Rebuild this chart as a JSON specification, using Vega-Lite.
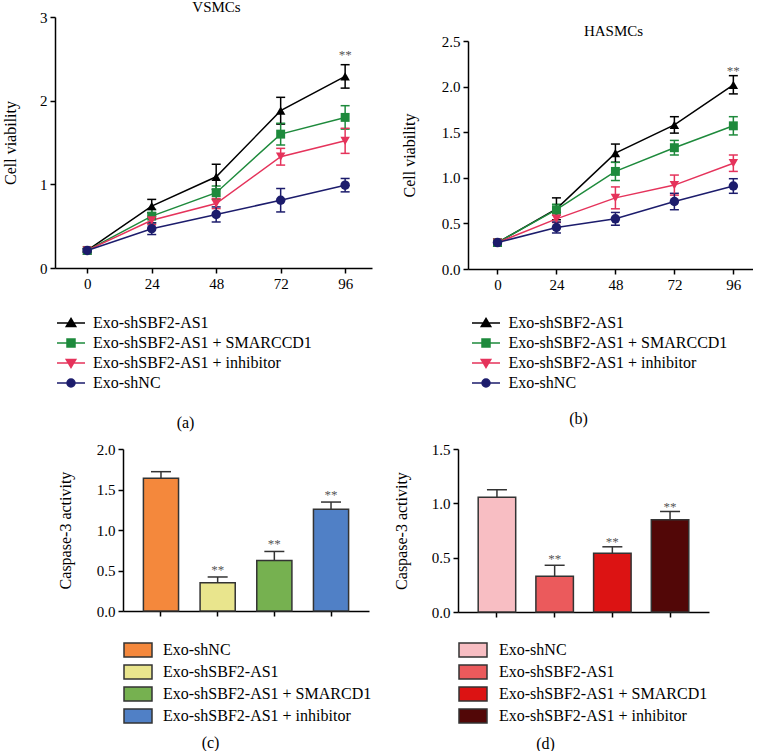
{
  "$schema": "https://vega.github.io/schema/vega-lite/v6.json",
  "background": "white",
  "padding": {"left": 2, "top": 0, "right": 0, "bottom": 0},
  "autosize": {"type": "pad"},
  "config": {
    "font": "Liberation Serif",
    "view": {"stroke": null},
    "axis": {"grid": false, "domainColor": "#000", "domainWidth": 1.5, "tickColor": "#000", "tickWidth": 1.5, "tickSize": 5, "labelFont": "Liberation Serif", "labelFontSize": 15, "labelColor": "#000", "labelPadding": 3, "titleFont": "Liberation Serif", "titleFontSize": 16, "titleFontWeight": "normal", "titleColor": "#000"},
    "legend": {"labelFont": "Liberation Serif", "labelFontSize": 16, "labelColor": "#000", "padding": 0, "titlePadding": 0, "labelLimit": 400},
    "title": {"font": "Liberation Serif", "fontSize": 15, "fontWeight": "normal", "color": "#000", "frame": "group", "anchor": "middle"},
    "text": {"font": "Liberation Serif"}
  },
  "resolve": {"scale": {"color": "independent", "shape": "independent"}, "legend": {"color": "independent", "shape": "independent"}},
  "spacing": 12,
  "vconcat": [
    {
      "spacing": 29,
      "resolve": {"scale": {"color": "independent", "shape": "independent"}, "legend": {"color": "independent", "shape": "independent"}},
      "hconcat": [
        {
          "width": 317, "height": 251,
          "title": {"text": "VSMCs", "offset": -5, "dx": 3},
          "data": {"values": [
            {"group": "Exo-shSBF2-AS1", "t": 0, "v": 0.21, "e": 0.02},
            {"group": "Exo-shSBF2-AS1", "t": 24, "v": 0.74, "e": 0.08},
            {"group": "Exo-shSBF2-AS1", "t": 48, "v": 1.09, "e": 0.15},
            {"group": "Exo-shSBF2-AS1", "t": 72, "v": 1.88, "e": 0.16},
            {"group": "Exo-shSBF2-AS1", "t": 96, "v": 2.29, "e": 0.14},
            {"group": "Exo-shSBF2-AS1 + SMARCCD1", "t": 0, "v": 0.21, "e": 0.02},
            {"group": "Exo-shSBF2-AS1 + SMARCCD1", "t": 24, "v": 0.62, "e": 0.08},
            {"group": "Exo-shSBF2-AS1 + SMARCCD1", "t": 48, "v": 0.9, "e": 0.08},
            {"group": "Exo-shSBF2-AS1 + SMARCCD1", "t": 72, "v": 1.6, "e": 0.13},
            {"group": "Exo-shSBF2-AS1 + SMARCCD1", "t": 96, "v": 1.8, "e": 0.14},
            {"group": "Exo-shSBF2-AS1 + inhibitor", "t": 0, "v": 0.21, "e": 0.02},
            {"group": "Exo-shSBF2-AS1 + inhibitor", "t": 24, "v": 0.57, "e": 0.05},
            {"group": "Exo-shSBF2-AS1 + inhibitor", "t": 48, "v": 0.77, "e": 0.06},
            {"group": "Exo-shSBF2-AS1 + inhibitor", "t": 72, "v": 1.33, "e": 0.1},
            {"group": "Exo-shSBF2-AS1 + inhibitor", "t": 96, "v": 1.52, "e": 0.15},
            {"group": "Exo-shNC", "t": 0, "v": 0.21, "e": 0.02},
            {"group": "Exo-shNC", "t": 24, "v": 0.47, "e": 0.07},
            {"group": "Exo-shNC", "t": 48, "v": 0.64, "e": 0.09},
            {"group": "Exo-shNC", "t": 72, "v": 0.81, "e": 0.14},
            {"group": "Exo-shNC", "t": 96, "v": 0.99, "e": 0.08}
          ]},
          "encoding": {
            "x": {"field": "t", "type": "quantitative", "scale": {"domain": [-12, 106], "nice": false, "zero": false},
                  "axis": {"values": [0, 24, 48, 72, 96], "title": "(a)", "titleX": 130, "titleY": 154, "titleBaseline": "middle", "titleAlign": "center", "labelFontSize": 15, "titleFontSize": 16, "domainWidth": 1.5, "tickWidth": 1.5, "tickSize": 5, "domainColor": "#000", "tickColor": "#000", "labelColor": "#000", "titleColor": "#000", "titleFontWeight": "normal"}},
            "y": {"field": "v", "type": "quantitative", "scale": {"domain": [0, 3], "nice": false},
                  "axis": {"values": [0, 1, 2, 3], "format": "d", "title": "Cell viability", "titleX": -45, "titleBaseline": "middle", "labelFontSize": 15, "titleFontSize": 16, "domainWidth": 1.5, "tickWidth": 1.5, "tickSize": 5, "domainColor": "#000", "tickColor": "#000", "labelColor": "#000", "titleColor": "#000", "titleFontWeight": "normal"}},
            "color": {"field": "group", "type": "nominal",
                      "scale": {"domain": ["Exo-shSBF2-AS1", "Exo-shSBF2-AS1 + SMARCCD1", "Exo-shSBF2-AS1 + inhibitor", "Exo-shNC"], "range": ["#000000", "#1e8a3c", "#e5335b", "#1c1c6c"]},
                      "legend": {"orient": "none", "legendX": 8, "legendY": 298, "title": null, "labelFont": "Liberation Serif", "labelFontSize": 16, "symbolSize": 100, "symbolOpacity": 1, "symbolStrokeWidth": 1.5, "labelOffset": 14, "rowPadding": 4}}
          },
          "layer": [
            {"mark": {"type": "errorbar", "ticks": true, "size": 9, "thickness": 1.5, "opacity": 1}, "encoding": {"yError": {"field": "e"}}},
            {"mark": {"type": "line", "strokeWidth": 1.5}, "encoding": {}},
            {"mark": {"type": "point", "filled": true, "opacity": 0, "size": 90},
             "encoding": {"shape": {"field": "group", "type": "nominal",
               "scale": {"domain": ["Exo-shSBF2-AS1", "Exo-shSBF2-AS1 + SMARCCD1", "Exo-shSBF2-AS1 + inhibitor", "Exo-shNC"],
                         "range": ["M-2.8,0H2.8M0,-0.9L0.95,0.7L-0.95,0.7Z", "M-2.8,0H2.8M-0.8,-0.8H0.8V0.8H-0.8Z", "M-2.8,0H2.8M-0.95,-0.7L0.95,-0.7L0,0.9Z", "M-2.8,0H2.8M0.8,0A0.8,0.8,0,1,1,-0.8,0A0.8,0.8,0,1,1,0.8,0Z"]},
               "legend": {"orient": "none", "legendX": 8, "legendY": 298, "title": null, "labelFont": "Liberation Serif", "labelFontSize": 16, "symbolSize": 100, "symbolOpacity": 1, "symbolStrokeWidth": 1.5, "labelOffset": 14, "rowPadding": 4}}}},
            {"transform": [{"filter": {"field": "group", "equal": "Exo-shSBF2-AS1"}}], "mark": {"type": "point", "shape": "triangle-up", "filled": true, "opacity": 1, "size": 90}, "encoding": {}},
            {"transform": [{"filter": {"field": "group", "equal": "Exo-shSBF2-AS1 + SMARCCD1"}}], "mark": {"type": "point", "shape": "square", "filled": true, "opacity": 1, "size": 80}, "encoding": {}},
            {"transform": [{"filter": {"field": "group", "equal": "Exo-shSBF2-AS1 + inhibitor"}}], "mark": {"type": "point", "shape": "triangle-down", "filled": true, "opacity": 1, "size": 90}, "encoding": {}},
            {"transform": [{"filter": {"field": "group", "equal": "Exo-shNC"}}], "mark": {"type": "point", "shape": "circle", "filled": true, "opacity": 1, "size": 90}, "encoding": {}},
            {"data": {"values": [{"t": 96, "v": 2.59, "label": "**"}]},
             "mark": {"type": "text", "fontSize": 13, "baseline": "middle", "dy": 4},
             "encoding": {"text": {"field": "label"}, "color": {"value": "#555555"}}}
          ]
        },
        {
          "spacing": 0,
          "resolve": {"scale": {"color": "independent", "shape": "independent"}, "legend": {"color": "independent", "shape": "independent"}},
          "vconcat": [
            {"width": 1, "height": 7, "data": {"values": [{"k": 1}]}, "mark": {"type": "point", "opacity": 0, "size": 1}, "encoding": {}},
            {
              "width": 285, "height": 228,
              "title": {"text": "HASMCs", "offset": -5, "dx": 3},
              "data": {"values": [
                {"group": "Exo-shSBF2-AS1", "t": 0, "v": 0.29, "e": 0.02},
                {"group": "Exo-shSBF2-AS1", "t": 24, "v": 0.66, "e": 0.12},
                {"group": "Exo-shSBF2-AS1", "t": 48, "v": 1.27, "e": 0.1},
                {"group": "Exo-shSBF2-AS1", "t": 72, "v": 1.58, "e": 0.09},
                {"group": "Exo-shSBF2-AS1", "t": 96, "v": 2.02, "e": 0.1},
                {"group": "Exo-shSBF2-AS1 + SMARCCD1", "t": 0, "v": 0.29, "e": 0.02},
                {"group": "Exo-shSBF2-AS1 + SMARCCD1", "t": 24, "v": 0.65, "e": 0.06},
                {"group": "Exo-shSBF2-AS1 + SMARCCD1", "t": 48, "v": 1.07, "e": 0.1},
                {"group": "Exo-shSBF2-AS1 + SMARCCD1", "t": 72, "v": 1.33, "e": 0.08},
                {"group": "Exo-shSBF2-AS1 + SMARCCD1", "t": 96, "v": 1.57, "e": 0.1},
                {"group": "Exo-shSBF2-AS1 + inhibitor", "t": 0, "v": 0.29, "e": 0.02},
                {"group": "Exo-shSBF2-AS1 + inhibitor", "t": 24, "v": 0.55, "e": 0.04},
                {"group": "Exo-shSBF2-AS1 + inhibitor", "t": 48, "v": 0.78, "e": 0.12},
                {"group": "Exo-shSBF2-AS1 + inhibitor", "t": 72, "v": 0.92, "e": 0.11},
                {"group": "Exo-shSBF2-AS1 + inhibitor", "t": 96, "v": 1.16, "e": 0.09},
                {"group": "Exo-shNC", "t": 0, "v": 0.29, "e": 0.02},
                {"group": "Exo-shNC", "t": 24, "v": 0.455, "e": 0.06},
                {"group": "Exo-shNC", "t": 48, "v": 0.55, "e": 0.07},
                {"group": "Exo-shNC", "t": 72, "v": 0.74, "e": 0.09},
                {"group": "Exo-shNC", "t": 96, "v": 0.91, "e": 0.08}
              ]},
              "encoding": {
                "x": {"field": "t", "type": "quantitative", "scale": {"domain": [-12, 104], "nice": false, "zero": false},
                      "axis": {"values": [0, 24, 48, 72, 96], "title": "(b)", "titleX": 110, "titleY": 149, "titleBaseline": "middle", "titleAlign": "center", "labelFontSize": 15, "titleFontSize": 16, "domainWidth": 1.5, "tickWidth": 1.5, "tickSize": 5, "domainColor": "#000", "tickColor": "#000", "labelColor": "#000", "titleColor": "#000", "titleFontWeight": "normal"}},
                "y": {"field": "v", "type": "quantitative", "scale": {"domain": [0, 2.5], "nice": false},
                      "axis": {"values": [0, 0.5, 1, 1.5, 2, 2.5], "format": ".1f", "title": "Cell viability", "titleX": -59, "titleBaseline": "middle", "labelFontSize": 15, "titleFontSize": 16, "domainWidth": 1.5, "tickWidth": 1.5, "tickSize": 5, "domainColor": "#000", "tickColor": "#000", "labelColor": "#000", "titleColor": "#000", "titleFontWeight": "normal"}},
                "color": {"field": "group", "type": "nominal",
                          "scale": {"domain": ["Exo-shSBF2-AS1", "Exo-shSBF2-AS1 + SMARCCD1", "Exo-shSBF2-AS1 + inhibitor", "Exo-shNC"], "range": ["#000000", "#1e8a3c", "#e5335b", "#1c1c6c"]},
                          "legend": {"orient": "none", "legendX": 10, "legendY": 274, "title": null, "labelFont": "Liberation Serif", "labelFontSize": 16, "symbolSize": 100, "symbolOpacity": 1, "symbolStrokeWidth": 1.5, "labelOffset": 14.5, "rowPadding": 4}}
              },
              "layer": [
                {"mark": {"type": "errorbar", "ticks": true, "size": 9, "thickness": 1.5, "opacity": 1}, "encoding": {"yError": {"field": "e"}}},
                {"mark": {"type": "line", "strokeWidth": 1.5}, "encoding": {}},
                {"mark": {"type": "point", "filled": true, "opacity": 0, "size": 90},
                 "encoding": {"shape": {"field": "group", "type": "nominal",
                   "scale": {"domain": ["Exo-shSBF2-AS1", "Exo-shSBF2-AS1 + SMARCCD1", "Exo-shSBF2-AS1 + inhibitor", "Exo-shNC"],
                             "range": ["M-2.8,0H2.8M0,-0.9L0.95,0.7L-0.95,0.7Z", "M-2.8,0H2.8M-0.8,-0.8H0.8V0.8H-0.8Z", "M-2.8,0H2.8M-0.95,-0.7L0.95,-0.7L0,0.9Z", "M-2.8,0H2.8M0.8,0A0.8,0.8,0,1,1,-0.8,0A0.8,0.8,0,1,1,0.8,0Z"]},
                   "legend": {"orient": "none", "legendX": 10, "legendY": 274, "title": null, "labelFont": "Liberation Serif", "labelFontSize": 16, "symbolSize": 100, "symbolOpacity": 1, "symbolStrokeWidth": 1.5, "labelOffset": 14.5, "rowPadding": 4}}}},
                {"transform": [{"filter": {"field": "group", "equal": "Exo-shSBF2-AS1"}}], "mark": {"type": "point", "shape": "triangle-up", "filled": true, "opacity": 1, "size": 90}, "encoding": {}},
                {"transform": [{"filter": {"field": "group", "equal": "Exo-shSBF2-AS1 + SMARCCD1"}}], "mark": {"type": "point", "shape": "square", "filled": true, "opacity": 1, "size": 80}, "encoding": {}},
                {"transform": [{"filter": {"field": "group", "equal": "Exo-shSBF2-AS1 + inhibitor"}}], "mark": {"type": "point", "shape": "triangle-down", "filled": true, "opacity": 1, "size": 90}, "encoding": {}},
                {"transform": [{"filter": {"field": "group", "equal": "Exo-shNC"}}], "mark": {"type": "point", "shape": "circle", "filled": true, "opacity": 1, "size": 90}, "encoding": {}},
                {"data": {"values": [{"t": 96, "v": 2.22, "label": "**"}]},
                 "mark": {"type": "text", "fontSize": 13, "baseline": "middle", "dy": 4},
                 "encoding": {"text": {"field": "label"}, "color": {"value": "#555555"}}}
              ]
            }
          ]
        }
      ]
    },
    {
      "spacing": 0,
      "resolve": {"scale": {"color": "independent", "shape": "independent"}, "legend": {"color": "independent", "shape": "independent"}},
      "hconcat": [
        {"width": 1, "height": 1, "data": {"values": [{"k": 1}]}, "mark": {"type": "point", "opacity": 0, "size": 1}, "encoding": {}},
        {
          "width": 246, "height": 162,
          "data": {"values": [
            {"group": "Exo-shNC", "v": 1.64, "e": 0.08},
            {"group": "Exo-shSBF2-AS1", "v": 0.35, "e": 0.07},
            {"group": "Exo-shSBF2-AS1 + SMARCD1", "v": 0.625, "e": 0.11},
            {"group": "Exo-shSBF2-AS1 + inhibitor", "v": 1.255, "e": 0.09}
          ]},
          "encoding": {
            "x": {"field": "group", "type": "nominal", "sort": null,
                  "scale": {"domain": ["Exo-shNC", "Exo-shSBF2-AS1", "Exo-shSBF2-AS1 + SMARCD1", "Exo-shSBF2-AS1 + inhibitor"], "paddingInner": 0.38, "paddingOuter": 0.36},
                  "axis": {"labels": false, "bandPosition": 0.5, "title": "(c)", "titleX": 87, "titleY": 131, "titleBaseline": "middle", "titleAlign": "center", "titleFontSize": 16, "domainWidth": 1.5, "tickWidth": 1.5, "tickSize": 5, "domainColor": "#000", "tickColor": "#000", "titleColor": "#000", "titleFontWeight": "normal"}},
            "y": {"field": "v", "type": "quantitative", "scale": {"domain": [0, 2], "nice": false},
                  "axis": {"values": [0, 0.5, 1, 1.5, 2], "format": ".1f", "title": "Caspase-3 activity", "titleX": -58, "titleBaseline": "middle", "labelFontSize": 15, "titleFontSize": 16, "domainWidth": 1.5, "tickWidth": 1.5, "tickSize": 5, "domainColor": "#000", "tickColor": "#000", "labelColor": "#000", "titleColor": "#000", "titleFontWeight": "normal"}}
          },
          "layer": [
            {"mark": {"type": "errorbar", "ticks": true, "size": 20, "thickness": 1.5, "color": "#333333", "opacity": 1}, "encoding": {"yError": {"field": "e"}}},
            {"mark": {"type": "bar", "stroke": "#333333", "strokeWidth": 1.5, "opacity": 1},
             "encoding": {"color": {"field": "group", "type": "nominal",
               "scale": {"domain": ["Exo-shNC", "Exo-shSBF2-AS1", "Exo-shSBF2-AS1 + SMARCD1", "Exo-shSBF2-AS1 + inhibitor"], "range": ["#f4883c", "#e9e58d", "#76b150", "#5080c6"]},
               "legend": {"orient": "none", "legendX": 4, "legendY": 190, "title": null, "labelFont": "Liberation Serif", "labelFontSize": 16, "symbolType": "M-1.4,-0.7H1.4V0.7H-1.4Z", "symbolSize": 400, "symbolStrokeColor": "#333333", "symbolStrokeWidth": 1.5, "symbolOpacity": 1, "labelOffset": 14, "rowPadding": 1}}}},
            {"data": {"values": [
              {"group": "Exo-shSBF2-AS1", "v": 0.56, "label": "**"},
              {"group": "Exo-shSBF2-AS1 + SMARCD1", "v": 0.875, "label": "**"},
              {"group": "Exo-shSBF2-AS1 + inhibitor", "v": 1.48, "label": "**"}
            ]},
             "mark": {"type": "text", "fontSize": 13, "baseline": "middle", "dy": 4},
             "encoding": {"text": {"field": "label"}, "color": {"value": "#555555"}}}
          ]
        },
        {"width": 21, "height": 1, "data": {"values": [{"k": 1}]}, "mark": {"type": "point", "opacity": 0, "size": 1}, "encoding": {}},
        {
          "width": 251, "height": 163,
          "data": {"values": [
            {"group": "Exo-shNC", "v": 1.055, "e": 0.07},
            {"group": "Exo-shSBF2-AS1", "v": 0.33, "e": 0.1},
            {"group": "Exo-shSBF2-AS1 + SMARCD1", "v": 0.54, "e": 0.06},
            {"group": "Exo-shSBF2-AS1 + inhibitor", "v": 0.85, "e": 0.075}
          ]},
          "encoding": {
            "x": {"field": "group", "type": "nominal", "sort": null,
                  "scale": {"domain": ["Exo-shNC", "Exo-shSBF2-AS1", "Exo-shSBF2-AS1 + SMARCD1", "Exo-shSBF2-AS1 + inhibitor"], "paddingInner": 0.35, "paddingOuter": 0.35},
                  "axis": {"labels": false, "bandPosition": 0.5, "title": "(d)", "titleX": 87, "titleY": 131, "titleBaseline": "middle", "titleAlign": "center", "titleFontSize": 16, "domainWidth": 1.5, "tickWidth": 1.5, "tickSize": 5, "domainColor": "#000", "tickColor": "#000", "titleColor": "#000", "titleFontWeight": "normal"}},
            "y": {"field": "v", "type": "quantitative", "scale": {"domain": [0, 1.5], "nice": false},
                  "axis": {"values": [0, 0.5, 1, 1.5], "format": ".1f", "title": "Caspase-3 activity", "titleX": -57, "titleBaseline": "middle", "labelFontSize": 15, "titleFontSize": 16, "domainWidth": 1.5, "tickWidth": 1.5, "tickSize": 5, "domainColor": "#000", "tickColor": "#000", "labelColor": "#000", "titleColor": "#000", "titleFontWeight": "normal"}}
          },
          "layer": [
            {"mark": {"type": "errorbar", "ticks": true, "size": 20, "thickness": 1.5, "color": "#333333", "opacity": 1}, "encoding": {"yError": {"field": "e"}}},
            {"mark": {"type": "bar", "stroke": "#333333", "strokeWidth": 1.5, "opacity": 1},
             "encoding": {"color": {"field": "group", "type": "nominal",
               "scale": {"domain": ["Exo-shNC", "Exo-shSBF2-AS1", "Exo-shSBF2-AS1 + SMARCD1", "Exo-shSBF2-AS1 + inhibitor"], "range": ["#f8bec3", "#eb5a5c", "#dc1313", "#520707"]},
               "legend": {"orient": "none", "legendX": 4, "legendY": 190, "title": null, "labelFont": "Liberation Serif", "labelFontSize": 16, "symbolType": "M-1.4,-0.7H1.4V0.7H-1.4Z", "symbolSize": 400, "symbolStrokeColor": "#333333", "symbolStrokeWidth": 1.5, "symbolOpacity": 1, "labelOffset": 15, "rowPadding": 1}}}},
            {"data": {"values": [
              {"group": "Exo-shSBF2-AS1", "v": 0.52, "label": "**"},
              {"group": "Exo-shSBF2-AS1 + SMARCD1", "v": 0.68, "label": "**"},
              {"group": "Exo-shSBF2-AS1 + inhibitor", "v": 1.0, "label": "**"}
            ]},
             "mark": {"type": "text", "fontSize": 13, "baseline": "middle", "dy": 4},
             "encoding": {"text": {"field": "label"}, "color": {"value": "#555555"}}}
          ]
        }
      ]
    }
  ]
}
